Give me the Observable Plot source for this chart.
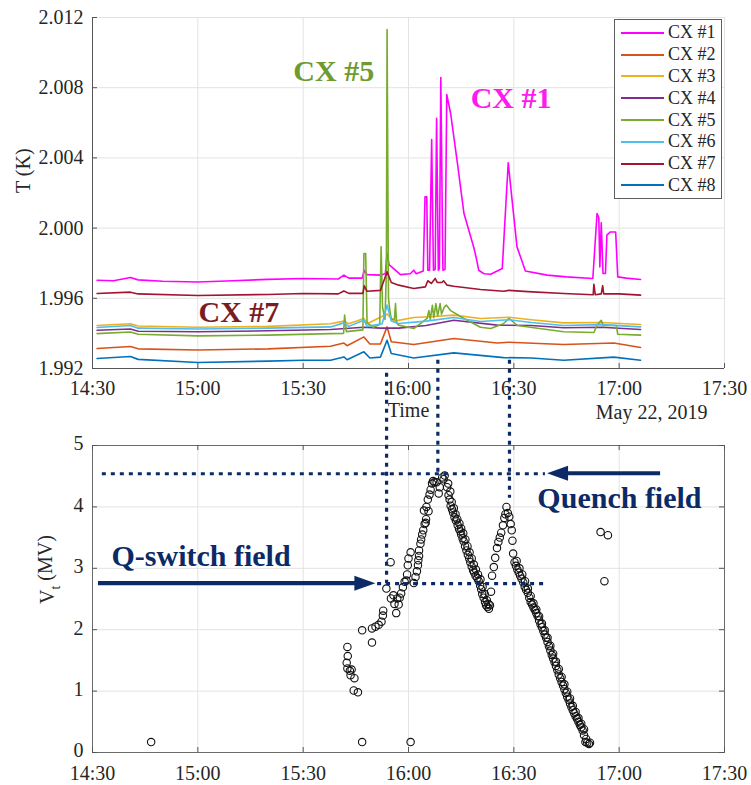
<!DOCTYPE html>
<html>
<head>
<meta charset="utf-8">
<script src="https://cdn.jsdelivr.net/npm/d3@7"></script>
<script src="https://cdn.jsdelivr.net/npm/@observablehq/plot@0.6"></script>
<style>
  body { margin: 0; background: #fff; font-family: "Liberation Serif", "Times New Roman", serif; }
  #chart { position: relative; width: 751px; height: 785px; }
  #chart svg { display: block; }
  .legend { position: absolute; left: 614px; top: 19px; width: 108px; height: 180px; box-sizing: border-box;
            border: 1.4px solid #5e5e5e; background: #fff; padding-top: 2px; }
  .legend .row { height: 21.8px; display: flex; align-items: center; font-size: 18px; color: #262626; }
  .legend .sw { width: 43px; height: 2px; margin-left: 6px; margin-right: 4px; }
</style>
</head>
<body>
<div id="chart"></div>
<script>
// ---- sensor names and colours ----
const seriesNames = ["CX #1", "CX #2", "CX #3", "CX #4", "CX #5", "CX #6", "CX #7", "CX #8"];
const seriesColors = ["#ff00ff", "#d95319", "#edb120", "#7e2f8e", "#77ac30", "#4dbeee", "#a2142f", "#0072bd"];

// ---- temperature traces: [minutes after 14:30, T (K)] ----
const cx1 = [[1.3,1.99703],[6,1.99700],[10.8,1.99719],[13,1.99705],[20,1.99697],[30,1.99693],[40,1.99700],[50,1.99708],[60,1.99713],[70,1.99710],[71.6,1.99732],[73,1.99715],[76.8,1.99715],[77.4,1.99760],[78.2,1.99735],[82,1.99732],[83.4,1.99740],[83.9,1.99855],[84.5,1.99790],[85.2,1.99779],[87.7,1.99735],[90.5,1.99740],[91.5,1.99760],[92.2,1.99740],[94.2,1.99755],[94.7,2.00178],[95.2,2.00178],[95.5,1.99760],[96.0,1.99760],[96.6,2.00505],[97.1,1.99760],[97.6,1.99765],[98.0,2.00625],[98.5,1.99760],[98.8,1.99770],[99.2,2.00858],[99.8,1.99760],[100.4,1.99765],[100.9,2.00761],[102.0,2.00653],[104,2.00360],[105.8,2.00083],[108.6,1.99890],[109.4,1.99820],[110.0,1.99760],[111.5,1.99740],[113.4,1.99737],[116.7,1.99770],[118.4,2.00372],[119.5,2.00159],[120.9,1.99893],[123.3,1.99756],[129.5,1.99732],[135,1.99722],[142.5,1.99713],[143.7,2.00083],[144.2,2.00060],[144.5,1.99779],[144.9,2.00030],[145.4,1.99741],[146.1,1.99741],[146.5,1.99960],[147.5,1.99978],[149.0,1.99978],[149.6,1.99722],[152,1.99715],[156.1,1.99707]];
const cx2 = [[1.3,1.99314],[10.8,1.99325],[13,1.99312],[30,1.99305],[50,1.99312],[67.8,1.99327],[71.6,1.99345],[72.5,1.99330],[77.3,1.99380],[79,1.99340],[82,1.99340],[83.9,1.99437],[85.1,1.99352],[91.5,1.99337],[102.9,1.99371],[115.3,1.99345],[118.6,1.99350],[134.2,1.99337],[148.5,1.99345],[156.1,1.99320]];
const cx3 = [[1.3,1.99445],[10.8,1.99455],[13,1.99442],[30,1.99435],[50,1.99440],[67.8,1.99455],[71.6,1.99470],[73,1.99455],[77.3,1.99485],[78.2,1.99455],[83.9,1.99510],[86,1.99470],[91.5,1.99491],[96,1.99495],[102.9,1.99504],[110.5,1.99485],[118.6,1.99492],[125,1.99478],[134.2,1.99460],[145,1.99462],[156.1,1.99451]];
const cx4 = [[1.3,1.99418],[10.8,1.99425],[13,1.99412],[30,1.99409],[50,1.99415],[67.8,1.99422],[77.3,1.99435],[82,1.99430],[87.2,1.99430],[95,1.99445],[102.9,1.99475],[115.3,1.99447],[125,1.99445],[134.2,1.99432],[145,1.99435],[156.1,1.99422]];
const cx5 = [[1.3,1.99399],[10.8,1.99408],[13,1.99395],[30,1.99386],[50,1.99390],[67.8,1.99399],[71.5,1.99400],[71.8,1.99504],[72.3,1.99410],[77,1.99420],[77.3,1.99855],[77.8,1.99855],[78.2,1.99460],[80,1.99435],[81.8,1.99450],[82.2,1.99893],[82.6,1.99550],[83.3,1.99480],[83.7,1.99750],[83.9,2.01131],[84.3,1.99600],[84.7,1.99530],[85.1,1.99480],[86.0,1.99480],[86.3,1.99570],[86.6,1.99460],[87.2,1.99447],[91.5,1.99428],[93,1.99450],[95.3,1.99485],[95.8,1.99530],[96.2,1.99480],[96.8,1.99560],[97.2,1.99490],[97.8,1.99570],[98.3,1.99500],[99.0,1.99570],[99.4,1.99510],[100.2,1.99550],[100.8,1.99561],[102,1.99530],[105.8,1.99485],[110.5,1.99435],[113.4,1.99428],[117,1.99455],[118.6,1.99485],[121,1.99445],[134.2,1.99409],[142.8,1.99405],[143.7,1.99447],[144.9,1.99475],[145.4,1.99445],[149.2,1.99445],[149.6,1.99395],[156.1,1.99390]];
const cx6 = [[1.3,1.99434],[10.8,1.99445],[13,1.99430],[30,1.99425],[50,1.99430],[67.8,1.99437],[71.6,1.99460],[73,1.99440],[77.3,1.99475],[78.2,1.99440],[82.5,1.99455],[83.9,1.99561],[85.1,1.99470],[87.2,1.99456],[95,1.99470],[102.9,1.99491],[110.5,1.99468],[118.6,1.99478],[125,1.99462],[134.2,1.99445],[145,1.99450],[156.1,1.99437]];
const cx7 = [[1.3,1.99627],[10.8,1.99635],[13,1.99625],[30,1.99616],[50,1.99622],[60,1.99627],[70,1.99625],[71.6,1.99642],[73,1.99628],[77,1.99628],[77.4,1.99671],[78.2,1.99640],[82,1.99645],[83.9,1.99751],[85.1,1.99690],[87.2,1.99675],[91.5,1.99656],[94.8,1.99665],[95.5,1.99700],[96.5,1.99685],[97.6,1.99713],[98.2,1.99690],[99.5,1.99690],[100,1.99700],[101,1.99675],[102.9,1.99669],[110.5,1.99650],[117.1,1.99640],[118.6,1.99645],[124,1.99638],[134.2,1.99627],[142.6,1.99620],[142.8,1.99680],[143.2,1.99620],[144.9,1.99625],[145.3,1.99672],[145.6,1.99625],[150,1.99625],[156.1,1.99618]];
const cx8 = [[1.3,1.99257],[10.8,1.99268],[13,1.99252],[30,1.99234],[50,1.99242],[60,1.99247],[67.8,1.99247],[71.6,1.99266],[72.5,1.99250],[77.3,1.99295],[79,1.99260],[82,1.99265],[83.9,1.99361],[85.1,1.99285],[91.5,1.99260],[102.9,1.99289],[117.1,1.99262],[125,1.99260],[134.2,1.99247],[148.5,1.99265],[156.1,1.99247]];
const traces = [cx1, cx2, cx3, cx4, cx5, cx6, cx7, cx8];

// ---- accelerating voltage: minutes after 14:30 and Vt (MV) ----
const vtMinutes = [16.7,72.6,72.7,72.4,72.6,73.3,73.8,73.5,74.6,74.4,75.6,76.8,76.8,79.6,79.6,80.6,81.5,82.3,82.7,82.8,83.7,84.9,85.0,85.7,86.0,86.5,86.8,87.2,87.5,87.9,88.4,88.9,89.4,89.6,89.8,90.0,90.6,90.6,91.5,92.0,92.4,92.7,92.8,93.0,93.0,93.4,93.6,93.9,94.2,94.6,94.9,94.4,95.1,95.7,95.5,96.0,96.7,97.4,98.0,98.6,98.9,99.6,100.0,100.3,
  95.0,96.3,97.0,
  101.0,101.4,101.7,102.0,102.4,102.7,103.1,103.5,104.0,104.4,104.8,105.0,105.4,105.7,106.1,106.5,106.9,107.3,107.6,108.0,108.4,108.7,109.1,109.6,110.0,110.4,110.7,111.0,111.4,111.8,112.1,112.5,112.9,113.2,
  101.3,101.9,102.3,102.9,103.4,103.9,104.5,105.0,105.6,106.2,106.8,107.4,108.0,108.6,109.2,109.8,110.5,111.1,111.7,112.3,112.8,
  113.5,113.8,114.3,114.7,115.2,115.6,116.0,116.4,116.9,117.3,117.6,117.9,118.3,118.7,119.1,119.4,119.6,119.8,
  120.2,120.6,121.0,121.4,121.8,122.2,122.7,123.1,123.5,124.0,124.4,124.8,125.2,125.6,126.0,126.4,126.8,127.2,127.6,128.0,128.4,128.8,129.2,129.6,130.0,130.4,130.8,131.2,131.6,132.0,132.4,132.8,133.2,133.6,134.0,134.4,134.8,135.2,135.6,136.0,136.4,136.8,137.2,137.6,138.0,138.4,138.8,139.2,139.6,140.0,140.4,140.9,141.4,141.7,
  120.8,121.6,122.4,123.2,124.0,124.8,125.6,126.4,127.2,128.0,128.8,129.6,130.4,131.2,132.0,132.8,133.6,134.4,135.2,136.0,136.8,137.6,138.4,139.2,140.0,140.6,
  144.7,146.8,145.8];
const vtMV = [0.17,1.72,1.57,1.46,1.37,1.33,1.35,1.26,1.21,1.01,0.98,0.17,1.99,1.79,2.02,2.05,2.08,2.13,2.23,2.31,2.67,3.10,2.51,2.56,2.42,2.27,2.51,2.41,2.52,2.59,2.69,2.78,2.80,2.90,3.05,3.16,3.26,0.17,2.76,2.86,2.95,3.05,3.13,3.20,3.29,3.40,3.47,3.55,3.62,3.72,3.74,3.94,4.00,3.93,4.12,4.20,4.38,4.40,4.40,4.22,4.32,4.48,4.45,4.51,
  3.80,4.28,4.42,
  4.32,4.19,4.12,4.02,3.96,3.91,3.83,3.78,3.70,3.64,3.60,3.55,3.49,3.44,3.36,3.29,3.22,3.16,3.10,3.03,2.97,2.93,2.88,2.84,2.79,2.72,2.66,2.58,2.52,2.45,2.40,2.37,2.34,2.40,
  4.38,4.25,4.08,3.98,3.88,3.80,3.73,3.65,3.57,3.47,3.36,3.26,3.16,3.06,2.98,2.90,2.82,2.70,2.58,2.48,2.42,
  2.62,2.88,3.02,3.17,3.33,3.43,3.50,3.58,3.70,3.82,3.88,4.00,3.90,3.84,3.72,3.62,3.45,3.24,
  3.10,3.04,2.98,2.93,2.88,2.83,2.77,2.70,2.65,2.60,2.52,2.45,2.41,2.36,2.32,2.27,2.22,2.15,2.09,2.04,1.98,1.92,1.87,1.80,1.73,1.66,1.59,1.53,1.47,1.41,1.34,1.27,1.21,1.15,1.09,1.03,0.97,0.91,0.86,0.80,0.74,0.69,0.64,0.59,0.55,0.50,0.45,0.41,0.36,0.28,0.17,0.16,0.14,0.16,
  3.12,3.00,2.90,2.79,2.67,2.55,2.43,2.33,2.22,2.10,1.99,1.87,1.74,1.61,1.48,1.36,1.23,1.11,0.99,0.88,0.76,0.66,0.56,0.47,0.38,0.22,
  3.59,3.54,2.79];

// ---- axis ticks ----
const tickMinutes = [0, 30, 60, 90, 120, 150, 180];
const tTicks = [1.992, 1.996, 2.000, 2.004, 2.008, 2.012];
const vTicks = [0, 1, 2, 3, 4, 5];

// ---- annotations ----
const quenchField = 4.54;      // MV
const qSwitchField = 2.75;     // MV
const fieldLines = [
  {vt: quenchField, from: 2.8, to: 129.0},
  {vt: qSwitchField, from: 81.2, to: 128.5}
];
const fieldArrows = [
  {vt: quenchField, from: 161.8, to: 129.6},
  {vt: qSwitchField, from: 1.7, to: 80.7}
];
// event times: from the temperature panel (K) down to the voltage panel (MV)
const eventLines = [
  {minute: 83.9, temp: 1.99173, vt: qSwitchField},
  {minute: 98.5, temp: 1.99247, vt: quenchField},
  {minute: 118.9, temp: 1.99247, vt: 4.14}
];
const tempLabels = [
  {text: "CX #5", minute: 57.2, temp: 2.00894, color: "#6e9b2e"},
  {text: "CX #1", minute: 107.7, temp: 2.00738, color: "#ff1aee"},
  {text: "CX #7", minute: 30.2, temp: 1.99517, color: "#7a1d22"}
];
const fieldLabels = [
  {text: "Q-switch field", minute: 5.4, vt: 3.19},
  {text: "Quench field", minute: 126.7, vt: 4.14}
];

const navy = "#0c2a66";
const serif = "Liberation Serif, Times New Roman, serif";
const start = new Date(2019, 4, 22, 14, 30);
const at = m => new Date(start.getTime() + m * 60000);
const xTicks = tickMinutes.map(at);
const xDomain = [at(0), at(180)];
const hhmm = d3.timeFormat("%H:%M");

const W = 751, H1 = 430, H2 = 355;
const m1 = {top: 17, right: 27, bottom: 62, left: 92};
const m2 = {top: 15, right: 27, bottom: 33, left: 92};
const frameW = W - m1.left - m1.right;
const frameH1 = H1 - m1.top - m1.bottom;
const frameH2 = H2 - m2.top - m2.bottom;

const rows = traces.flatMap((tr, i) => tr.map(([m, t]) => ({series: seriesNames[i], time: at(m), temp: t})));

const topPlot = Plot.plot({
  width: W, height: H1,
  marginTop: m1.top, marginRight: m1.right, marginBottom: m1.bottom, marginLeft: m1.left,
  style: {fontFamily: serif, background: "transparent", overflow: "visible"},
  x: {type: "time", domain: xDomain},
  y: {domain: [1.992, 2.012]},
  color: {domain: seriesNames, range: seriesColors},
  marks: [
    Plot.ruleX(xTicks, {stroke: "#e3e3e3"}),
    Plot.ruleY(tTicks, {stroke: "#e3e3e3"}),
    Plot.ruleX([xDomain[0]], {stroke: "#555"}),
    Plot.ruleY([1.992], {stroke: "#555"}),
    Plot.tickX(xTicks, {x: d => d, insetTop: frameH1 - 5, stroke: "#555"}),
    Plot.tickY(tTicks, {y: d => d, insetRight: frameW - 5, stroke: "#555"}),
    Plot.axisX(xTicks, {tickSize: 0, tickPadding: 12, tickFormat: hhmm, fontSize: 20, fill: "#262626", label: null}),
    Plot.axisY(tTicks, {tickSize: 0, tickPadding: 9, tickFormat: d3.format(".3f"), fontSize: 20, fill: "#262626", label: null}),
    Plot.line(rows, {x: "time", y: "temp", z: "series", stroke: "series", strokeWidth: 1.6}),
    ...tempLabels.map(l => Plot.text([l], {x: d => at(d.minute), y: "temp", text: "text", textAnchor: "start",
      fill: l.color, fontWeight: "bold", fontSize: 30})),
    Plot.text(["T (K)"], {frameAnchor: "left", rotate: -90, dx: -69, fontSize: 20, fill: "#262626"}),
    Plot.text(["Time"], {frameAnchor: "bottom", dy: 48, fontSize: 20, fill: "#262626"}),
    Plot.text(["May 22, 2019"], {frameAnchor: "bottom-right", dx: -17, dy: 50, textAnchor: "end", fontSize: 20, fill: "#262626"})
  ]
});

const topY = topPlot.scale("y");

// filled arrows pointing along the field lines
const arrows = (index, scales) => {
  const g = d3.create("svg:g").attr("fill", navy).attr("stroke", navy);
  for (const a of fieldArrows) {
    const x1 = scales.x(at(a.from)), x2 = scales.x(at(a.to)), y = scales.y(a.vt);
    const dir = Math.sign(x2 - x1), head = 21, half = 7.5, xb = x2 - dir * head;
    g.append("line").attr("x1", x1).attr("x2", xb + dir).attr("y1", y).attr("y2", y).attr("stroke-width", 4.2);
    g.append("path").attr("stroke", "none").attr("d", `M${x2},${y}L${xb},${y - half}L${xb},${y + half}Z`);
  }
  return g.node();
};

// dotted event lines that run from the temperature panel into the voltage panel
const events = (index, scales) => {
  const g = d3.create("svg:g").attr("stroke", navy).attr("stroke-width", 3.2).attr("stroke-dasharray", "4,5");
  for (const e of eventLines) {
    const x = scales.x(at(e.minute));
    g.append("line").attr("x1", x).attr("x2", x)
      .attr("y1", topY.apply(e.temp) - H1).attr("y2", scales.y(e.vt));
  }
  return g.node();
};

const vt = vtMinutes.map((m, i) => ({time: at(m), vt: vtMV[i]}));
const vLabel = "Vt (MV)";

const bottomPlot = Plot.plot({
  width: W, height: H2,
  marginTop: m2.top, marginRight: m2.right, marginBottom: m2.bottom, marginLeft: m2.left,
  style: {fontFamily: serif, background: "transparent", overflow: "visible"},
  x: {type: "time", domain: xDomain},
  y: {domain: [0, 5]},
  marks: [
    Plot.ruleX(xTicks, {stroke: "#e3e3e3"}),
    Plot.ruleY(vTicks, {stroke: "#e3e3e3"}),
    Plot.frame({stroke: "#6a6a6a"}),
    Plot.tickX(xTicks, {x: d => d, insetTop: frameH2 - 5, stroke: "#555"}),
    Plot.tickX(xTicks, {x: d => d, insetBottom: frameH2 - 5, stroke: "#555"}),
    Plot.tickY(vTicks, {y: d => d, insetRight: frameW - 5, stroke: "#555"}),
    Plot.tickY(vTicks, {y: d => d, insetLeft: frameW - 5, stroke: "#555"}),
    Plot.axisX(xTicks, {tickSize: 0, tickPadding: 13, tickFormat: hhmm, fontSize: 20, fill: "#262626", label: null}),
    Plot.axisY(vTicks, {tickSize: 0, tickPadding: 9, dy: -1.5, tickFormat: d3.format("d"), fontSize: 20, fill: "#262626", label: null}),
    Plot.dot(vt, {x: "time", y: "vt", r: 3.7, stroke: "#111", strokeWidth: 1.1, fill: "none"}),
    Plot.ruleY(fieldLines, {y: "vt", x1: d => at(d.from), x2: d => at(d.to), stroke: navy, strokeWidth: 3.2, strokeDasharray: "4,5"}),
    events,
    arrows,
    Plot.text(fieldLabels, {x: d => at(d.minute), y: "vt", text: "text", textAnchor: "start", fill: navy, fontWeight: "bold", fontSize: 30}),
    Plot.text([vLabel], {frameAnchor: "left", rotate: -90, dx: -45, dy: 5, fontSize: 20, fill: "#262626"})
  ]
});

// subscript t in the voltage axis title
for (const t of bottomPlot.querySelectorAll("text")) {
  if (t.textContent === vLabel) {
    t.textContent = "";
    const ns = "http://www.w3.org/2000/svg";
    const parts = [["V", null, null], ["t", "0.4em", "14px"], [" (MV)", "-0.4em", null]];
    for (const [s, dy, fs] of parts) {
      const sp = document.createElementNS(ns, "tspan");
      sp.textContent = s;
      if (dy) sp.setAttribute("dy", dy);
      if (fs) sp.setAttribute("font-size", fs);
      t.appendChild(sp);
    }
  }
}

const chart = document.getElementById("chart");
chart.appendChild(topPlot);
chart.appendChild(bottomPlot);

// legend
const legend = document.createElement("div");
legend.className = "legend";
seriesNames.forEach((name, i) => {
  const row = document.createElement("div");
  row.className = "row";
  const sw = document.createElement("span");
  sw.className = "sw";
  sw.style.background = seriesColors[i];
  const label = document.createElement("span");
  label.textContent = name;
  row.append(sw, label);
  legend.appendChild(row);
});
chart.appendChild(legend);
</script>
</body>
</html>
